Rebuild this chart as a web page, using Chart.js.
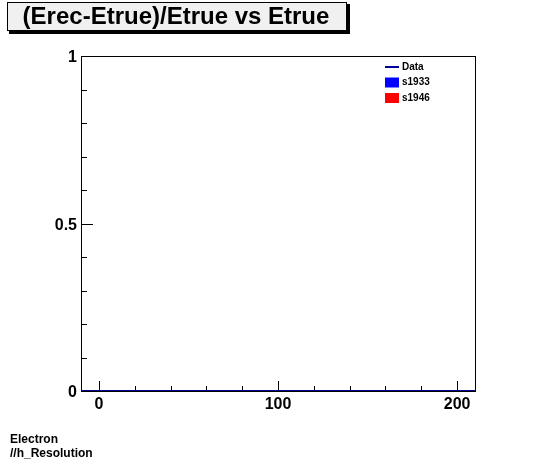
<!DOCTYPE html>
<html>
<head>
<meta charset="utf-8">
<script src="https://cdn.jsdelivr.net/npm/chart.js@4"></script>
<style>
  html, body { margin: 0; padding: 0; background: #fff; }
  #wrap { position: relative; width: 546px; height: 462px; }
</style>
</head>
<body>
<div id="wrap"><canvas id="c" width="546" height="462"></canvas></div>
<script>
// chart values
const titleText = '(Erec-Etrue)/Etrue vs Etrue';
const footLines = ['Electron', '//h_Resolution'];
const xRange = [-10, 210];
const yRange = [0, 1];
const xStep = 20;      // minor tick spacing
const xMajor = 100;    // labelled ticks
const yStep = 0.1;
const yMajor = 0.5;
const dataX = [-10, 210];
const dataY = [0, 0];
const seriesNames = ['Data', 's1933', 's1946'];
const seriesColors = ['#000099', '#0000ff', '#ff0000'];

const FONT = '"Liberation Sans", Arial, Helvetica, sans-serif';

// ROOT style: ticks point into the frame, major ones longer
const rootFrame = {
    id: 'rootFrame',
    beforeDatasetsDraw(chart) {
        // title box with shadow
        const ctx = chart.ctx;
        ctx.save();
        ctx.fillStyle = '#000';
        ctx.fillRect(9, 4, 341, 30);
        ctx.fillStyle = '#f0f0f0';
        ctx.fillRect(7, 2, 340, 29);
        ctx.strokeStyle = '#000';
        ctx.lineWidth = 1;
        ctx.strokeRect(7.5, 2.5, 339, 28);
        ctx.fillStyle = '#000';
        ctx.font = 'bold 24px ' + FONT;
        ctx.textAlign = 'center';
        ctx.textBaseline = 'middle';
        ctx.fillText(titleText, 176, 17);
        // footer text
        ctx.textAlign = 'left';
        ctx.textBaseline = 'alphabetic';
        ctx.font = 'bold 12px ' + FONT;
        ctx.fillText(footLines[0], 10, 443);
        ctx.fillText(footLines[1], 10, 457);
        // frame and ticks
        const a = chart.chartArea;
        const xs = chart.scales.x, ys = chart.scales.y;
        ctx.strokeStyle = '#000';
        ctx.lineWidth = 1;
        ctx.strokeRect(a.left + 0.5, a.top + 0.5, a.right - a.left, a.bottom - a.top);
        ctx.beginPath();
        xs.ticks.forEach(t => {
            const px = Math.round(xs.getPixelForValue(t.value)) + 0.5;
            const len = Math.abs(t.value % xMajor) < 1e-6 ? 10 : 5;
            ctx.moveTo(px, a.bottom);
            ctx.lineTo(px, a.bottom - len);
        });
        ys.ticks.forEach(t => {
            const py = Math.round(ys.getPixelForValue(t.value)) + 0.5;
            const r = Math.round(t.value * 10) % Math.round(yMajor * 10) === 0;
            ctx.moveTo(a.left, py);
            ctx.lineTo(a.left + (r ? 12 : 6), py);
        });
        ctx.stroke();
        ctx.restore();
    },
    afterDatasetsDraw(chart) {
        // legend inside the frame, top right
        const ctx = chart.ctx;
        ctx.save();
        ctx.font = 'bold 10px ' + FONT;
        ctx.textBaseline = 'middle';
        chart.data.datasets.forEach((ds, i) => {
            const y = 67 + i * 15.5;
            if (i === 0) {
                ctx.strokeStyle = ds.borderColor;
                ctx.lineWidth = 2;
                ctx.beginPath();
                ctx.moveTo(385, y);
                ctx.lineTo(399, y);
                ctx.stroke();
            } else {
                ctx.fillStyle = ds.backgroundColor;
                ctx.fillRect(385, y - 5, 14, 10);
            }
            ctx.fillStyle = '#000';
            ctx.fillText(ds.label, 402, y);
        });
        ctx.restore();
    }
};

const datasets = seriesNames.map((name, i) => ({
    label: name,
    data: i === 0 ? dataX.map((x, k) => ({ x: x, y: dataY[k] })) : [],
    borderColor: seriesColors[i],
    backgroundColor: seriesColors[i],
    borderWidth: 2,
    pointRadius: 0,
    showLine: true
}));

new Chart(document.getElementById('c').getContext('2d'), {
    type: 'scatter',
    data: { datasets: datasets },
    plugins: [rootFrame],
    options: {
        responsive: false,
        animation: false,
        events: [],
        layout: { padding: { left: 0, right: 71, top: 56, bottom: 0 } },
        plugins: { legend: { display: false }, tooltip: { enabled: false } },
        scales: {
            x: {
                type: 'linear',
                min: xRange[0], max: xRange[1],
                grid: { display: false, drawTicks: false },
                border: { display: false },
                afterFit(s) { s.height = 71; },
                afterBuildTicks(s) {
                    const t = [];
                    for (let v = 0; v <= xRange[1]; v += xStep) t.push({ value: v });
                    s.ticks = t;
                },
                ticks: {
                    autoSkip: false,
                    maxRotation: 0,
                    padding: 4,
                    color: '#000',
                    font: { family: FONT, size: 16, weight: 'bold' },
                    callback: v => (Math.abs(v % xMajor) < 1e-6 ? String(v) : '')
                }
            },
            y: {
                type: 'linear',
                min: yRange[0], max: yRange[1],
                grid: { display: false, drawTicks: false },
                border: { display: false },
                afterFit(s) { s.width = 81; },
                ticks: {
                    stepSize: yStep,
                    autoSkip: false,
                    padding: 4,
                    labelOffset: 2,
                    color: '#000',
                    font: { family: FONT, size: 16, weight: 'bold' },
                    callback: v => {
                        const r = Math.round(v * 10);
                        return r % Math.round(yMajor * 10) === 0 ? String(r / 10) : '';
                    }
                }
            }
        }
    }
});
</script>
</body>
</html>
